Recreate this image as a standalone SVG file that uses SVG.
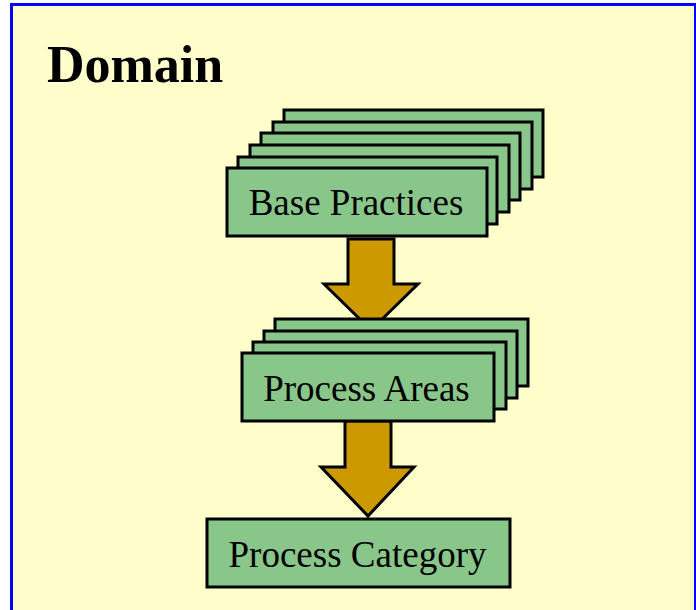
<svg xmlns="http://www.w3.org/2000/svg" width="696" height="610" viewBox="0 0 696 610">
<style>
.card{fill:#89C68A;stroke:#000;stroke-width:3}
.lbl{font-family:"Liberation Serif","Times New Roman",serif;font-size:37px;fill:#000;text-anchor:middle}
.title{font-family:"Liberation Serif","Times New Roman",serif;font-size:52px;font-weight:bold;fill:#000}
.arrow{fill:#CC9900;stroke:#000;stroke-width:3;stroke-linejoin:miter}
</style>
<rect x="0" y="0" width="696" height="610" fill="#fff"/>
<rect x="11.5" y="4.5" width="684" height="610" fill="#FFFFCC" stroke="#0000FF" stroke-width="3"/>
<text class="title" x="47" y="82">Domain</text>
<g id="connectors">
<polygon class="arrow" points="348,239 394,239 394,284 418,284 371,330 324,284 348,284"/>
<polygon class="arrow" points="345,421 391,421 391,467 414,467 368,516 321,467 345,467"/>
</g>
<g id="base-practices">
<rect class="card" x="284" y="110" width="259" height="67"/>
<rect class="card" x="273" y="122" width="259" height="67"/>
<rect class="card" x="261" y="133" width="259" height="67"/>
<rect class="card" x="250" y="145" width="259" height="67"/>
<rect class="card" x="238" y="157" width="259" height="67"/>
<rect class="card" x="227" y="168" width="260" height="68"/>
<text class="lbl" x="356" y="215">Base Practices</text>
</g>
<g id="process-areas">
<rect class="card" x="275" y="319" width="253" height="67"/>
<rect class="card" x="264" y="331" width="253" height="67"/>
<rect class="card" x="253" y="342" width="253" height="67"/>
<rect class="card" x="242" y="353" width="252" height="68"/>
<text class="lbl" x="366.5" y="401">Process Areas</text>
</g>
<g id="process-category">
<rect class="card" x="207" y="519" width="303" height="68"/>
<text class="lbl" x="357.5" y="567">Process Category</text>
</g>
</svg>
